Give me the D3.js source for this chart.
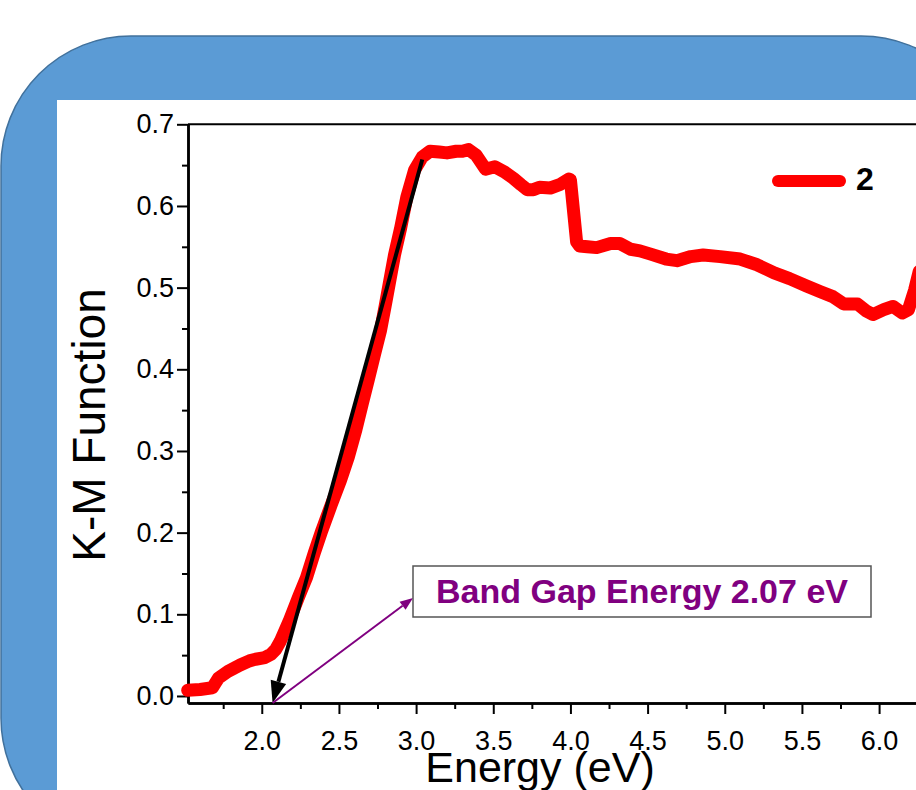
<!DOCTYPE html>
<html>
<head>
<meta charset="utf-8">
<script src="https://cdn.jsdelivr.net/npm/d3@7/dist/d3.min.js"></script>
<style>
  html, body { margin: 0; padding: 0; background: #ffffff; }
  svg { display: block; }
  text { font-family: "Liberation Sans", Arial, sans-serif; }
</style>
</head>
<body>
<svg id="chart" width="916" height="790"></svg>
<script>
// Kubelka-Munk function versus photon energy
const energy = [1.52, 1.60, 1.68, 1.70, 1.72, 1.78, 1.86, 1.92, 1.96, 2.02, 2.06, 2.09,
  2.12, 2.18, 2.24, 2.29, 2.34, 2.39, 2.45, 2.51, 2.56, 2.61, 2.65, 2.69, 2.73, 2.77,
  2.80, 2.83, 2.86, 2.90, 2.94, 2.99, 3.04, 3.09, 3.15, 3.20, 3.26, 3.30, 3.34, 3.39,
  3.45, 3.51, 3.57, 3.63, 3.68, 3.72, 3.76, 3.80, 3.87, 3.93, 3.99, 4.00, 4.04, 4.06,
  4.11, 4.17, 4.26, 4.32, 4.39, 4.45, 4.52, 4.62, 4.69, 4.78, 4.86, 4.97, 5.10, 5.21,
  5.32, 5.42, 5.53, 5.62, 5.70, 5.77, 5.86, 5.92, 5.96, 6.03, 6.09, 6.15, 6.19, 6.23, 6.26];
const kmValues = [0.007, 0.008, 0.010, 0.016, 0.022, 0.030, 0.038, 0.043, 0.045, 0.047, 0.051, 0.057,
  0.067, 0.093, 0.122, 0.145, 0.175, 0.203, 0.234, 0.264, 0.292, 0.326, 0.357, 0.387, 0.418, 0.448,
  0.478, 0.509, 0.540, 0.573, 0.611, 0.644, 0.660, 0.667, 0.666, 0.665, 0.667, 0.667, 0.669, 0.662,
  0.645, 0.648, 0.642, 0.634, 0.626, 0.620, 0.620, 0.623, 0.622, 0.626, 0.633, 0.632, 0.556, 0.551,
  0.550, 0.549, 0.554, 0.554, 0.547, 0.545, 0.541, 0.535, 0.533, 0.538, 0.540, 0.538, 0.535, 0.528,
  0.518, 0.511, 0.502, 0.495, 0.489, 0.480, 0.480, 0.471, 0.467, 0.473, 0.477, 0.469, 0.473, 0.497, 0.520];
const seriesName = "2";

const xMajorTicks = [2.0, 2.5, 3.0, 3.5, 4.0, 4.5, 5.0, 5.5, 6.0];
const xMinorTicks = [1.75, 2.25, 2.75, 3.25, 3.75, 4.25, 4.75, 5.25, 5.75, 6.25];
const yMajorTicks = [0.0, 0.1, 0.2, 0.3, 0.4, 0.5, 0.6, 0.7];
const yMinorTicks = [0.05, 0.15, 0.25, 0.35, 0.45, 0.55, 0.65];

// Tauc-style linear extrapolation of the absorption edge
const bandGap = 2.07;
const fitEnergy = [3.04, bandGap];
const fitKM = [0.657, -0.0086];

const svg = d3.select("#chart");

// rounded blue frame and white panel behind the plot
svg.append("rect")
  .attr("x", 1).attr("y", 36).attr("width", 990).attr("height", 812)
  .attr("rx", 130).attr("ry", 130)
  .attr("fill", "#5b9bd5").attr("stroke", "#41719c").attr("stroke-width", 1.5);
svg.append("rect")
  .attr("x", 57).attr("y", 100).attr("width", 900).attr("height", 720)
  .attr("fill", "#ffffff");

const x = d3.scaleLinear().domain([1.522, 6.5]).range([188, 188 + (6.5 - 1.522) * 154.33]);
const y = d3.scaleLinear().domain([-0.0086, 0.7]).range([703, 124.3]);

// axes
function styleAxis(g) {
  g.selectAll(".domain").attr("stroke", "#000").attr("stroke-width", 2.5);
  g.selectAll(".tick line").attr("stroke", "#000").attr("stroke-width", 2);
  g.selectAll(".tick text").attr("fill", "#000").attr("font-size", 27)
    .attr("font-family", "'Liberation Sans', Arial, sans-serif");
}

const gy = svg.append("g").attr("transform", "translate(188,0)");
gy.call(d3.axisLeft(y).tickValues(yMajorTicks).tickFormat(d3.format(".1f"))
  .tickSize(11).tickSizeOuter(0).tickPadding(3));
styleAxis(gy);
const gyMinor = svg.append("g").attr("transform", "translate(188,0)");
gyMinor.call(d3.axisLeft(y).tickValues(yMinorTicks).tickFormat("").tickSize(6).tickSizeOuter(0));
styleAxis(gyMinor);

const gx = svg.append("g").attr("transform", "translate(0,703)");
gx.call(d3.axisBottom(x).tickValues(xMajorTicks).tickFormat(d3.format(".1f"))
  .tickSize(11).tickSizeOuter(0).tickPadding(17));
styleAxis(gx);
const gxMinor = svg.append("g").attr("transform", "translate(0,703)");
gxMinor.call(d3.axisBottom(x).tickValues(xMinorTicks).tickFormat("").tickSize(6).tickSizeOuter(0));
styleAxis(gxMinor);

// top frame line
svg.append("line")
  .attr("x1", x.range()[0]).attr("x2", x.range()[1])
  .attr("y1", y(0.7)).attr("y2", y(0.7))
  .attr("stroke", "#000").attr("stroke-width", 2);

// axis titles
svg.append("text")
  .attr("transform", "translate(105,425) rotate(-90)")
  .attr("text-anchor", "middle").attr("font-size", 46).attr("fill", "#000")
  .text("K-M Function");
svg.append("text")
  .attr("x", 540).attr("y", 782)
  .attr("text-anchor", "middle").attr("font-size", 43).attr("fill", "#000")
  .text("Energy (eV)");

// data curve
const series = energy.map((e, i) => ({ e, k: kmValues[i] }));
svg.append("path")
  .datum(series)
  .attr("fill", "none").attr("stroke", "#ff0000").attr("stroke-width", 13)
  .attr("stroke-linejoin", "round").attr("stroke-linecap", "round")
  .attr("d", d3.line().x(d => x(d.e)).y(d => y(d.k)));

// arrow helper: line with a filled triangular head at (x2,y2)
function arrow(x1, y1, x2, y2, color, width, headLen, headWidth) {
  const ang = Math.atan2(y2 - y1, x2 - x1);
  const bx = x2 - headLen * Math.cos(ang), by = y2 - headLen * Math.sin(ang);
  svg.append("line")
    .attr("x1", x1).attr("y1", y1).attr("x2", bx).attr("y2", by)
    .attr("stroke", color).attr("stroke-width", width);
  const px = -Math.sin(ang) * headWidth / 2, py = Math.cos(ang) * headWidth / 2;
  svg.append("polygon")
    .attr("points", [[x2, y2], [bx + px, by + py], [bx - px, by - py]].map(p => p.join(",")).join(" "))
    .attr("fill", color);
}

// linear fit to the absorption edge
arrow(x(fitEnergy[0]), y(fitKM[0]), x(fitEnergy[1]), y(fitKM[1]), "#000", 4, 22, 16);

// band gap annotation
const boxX = 413, boxY = 566, boxW = 458, boxH = 51;
arrow(x(bandGap), y(fitKM[1]), boxX, 598, "#800080", 2, 13, 10);
svg.append("rect")
  .attr("x", boxX).attr("y", boxY).attr("width", boxW).attr("height", boxH)
  .attr("fill", "#ffffff").attr("stroke", "#555").attr("stroke-width", 1.5);
svg.append("text")
  .attr("x", boxX + boxW / 2).attr("y", 603)
  .attr("text-anchor", "middle").attr("font-size", 34).attr("font-weight", "bold")
  .attr("fill", "#800080")
  .text(`Band Gap Energy ${bandGap.toFixed(2)} eV`);

// legend
svg.append("line")
  .attr("x1", 778).attr("x2", 840).attr("y1", 181).attr("y2", 181)
  .attr("stroke", "#ff0000").attr("stroke-width", 12).attr("stroke-linecap", "round");
svg.append("text")
  .attr("x", 856).attr("y", 190)
  .attr("font-size", 32).attr("font-weight", "bold").attr("fill", "#000")
  .text(seriesName);
</script>
</body>
</html>
